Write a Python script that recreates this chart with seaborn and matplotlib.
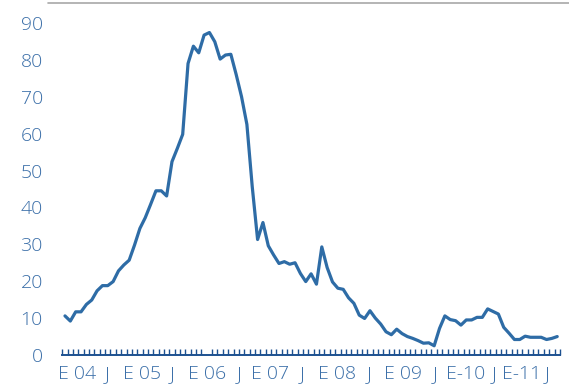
import numpy as np
import pandas as pd
import matplotlib
matplotlib.use("Agg")
import matplotlib.pyplot as plt
from matplotlib.lines import Line2D
import seaborn as sns

# Monthly series, January 2004 to September 2011
months = pd.date_range("2004-01-01", periods=93, freq="MS")
values = [
    10.6, 9.2, 11.7, 11.7, 13.7, 14.9, 17.4, 18.8, 18.8, 19.9, 22.8, 24.4,
    25.7, 29.8, 34.3, 37.2, 40.8, 44.5, 44.5, 43.1, 52.4, 56.0, 59.8, 79.0,
    83.7, 81.9, 86.7, 87.4, 84.9, 80.2, 81.3, 81.5, 76.0, 70.0, 62.5, 45.6,
    31.3, 35.9, 29.6, 27.1, 24.8, 25.3, 24.6, 25.0, 22.1, 19.9, 22.0, 19.2,
    29.3, 23.7, 19.8, 18.1, 17.8, 15.5, 14.0, 10.8, 9.9, 12.0, 10.0, 8.4,
    6.3, 5.5, 7.0, 5.8, 5.0, 4.5, 3.9, 3.2, 3.3, 2.5, 7.2, 10.6,
    9.6, 9.3, 8.1, 9.5, 9.5, 10.2, 10.2, 12.5, 11.8, 11.1, 7.5, 5.9,
    4.2, 4.2, 5.1, 4.8, 4.8, 4.8, 4.2, 4.5, 5.0,
]

# Axis labels (E = enero, J = junio) and where they sit on the month index
x_labels = ["E 04", "J", "E 05", "J", "E 06", "J", "E 07", "J",
            "E 08", "J", "E 09", "J", "E-10", "J", "E-11", "J"]
x_label_pos = [2.2, 7.9, 14.4, 20.1, 26.5, 32.6, 38.4, 44.4,
               50.8, 56.9, 63.2, 69.1, 74.9, 80.3, 85.3, 90.2]
y_ticks = list(range(0, 100, 10))

LINE = "#2e6ca6"
NAVY = "#1d5190"
TEXT = "#3a6ea8"

sns.set_theme(style="white")
plt.rcParams["font.family"] = ["Open Sans", "DejaVu Sans"]
plt.rcParams["font.weight"] = 300

W, H = 569, 389
fig = plt.figure(figsize=(W / 100, H / 100), dpi=100)
ax = fig.add_axes([62.3 / W, 34 / H, (559.9 - 62.3) / W, (386 - 34) / H])

df = pd.DataFrame({"idx": np.arange(len(values)), "value": values, "month": months})
sns.lineplot(data=df, x="idx", y="value", ax=ax, color=LINE, linewidth=2.3)

ax.set_xlim(-0.5, len(values) - 0.5)
ax.set_ylim(0, 95.4)

for side in ("top", "right", "left"):
    ax.spines[side].set_visible(False)
ax.spines["bottom"].set_color(NAVY)
ax.spines["bottom"].set_linewidth(1.4)

ax.set_xticks(x_label_pos)
ax.set_xticklabels(x_labels)
ax.set_xticks(np.arange(-0.5, len(values), 1), minor=True)
ax.tick_params(axis="x", which="major", length=0, pad=7, labelsize=14, labelcolor=TEXT)
ax.tick_params(axis="x", which="minor", direction="in", length=4, width=1, color=NAVY, bottom=True)

ax.set_yticks(y_ticks)
ax.tick_params(axis="y", length=0, pad=14, labelsize=14, labelcolor=TEXT)

ax.set_xlabel("")
ax.set_ylabel("")
ax.grid(False)

# Thin grey rule across the top
fig.add_artist(Line2D([48 / W, 1.0], [1 - 3 / H, 1 - 3 / H], color="#a8a8a8", linewidth=1.2))

fig.savefig("out.png", dpi=100)
